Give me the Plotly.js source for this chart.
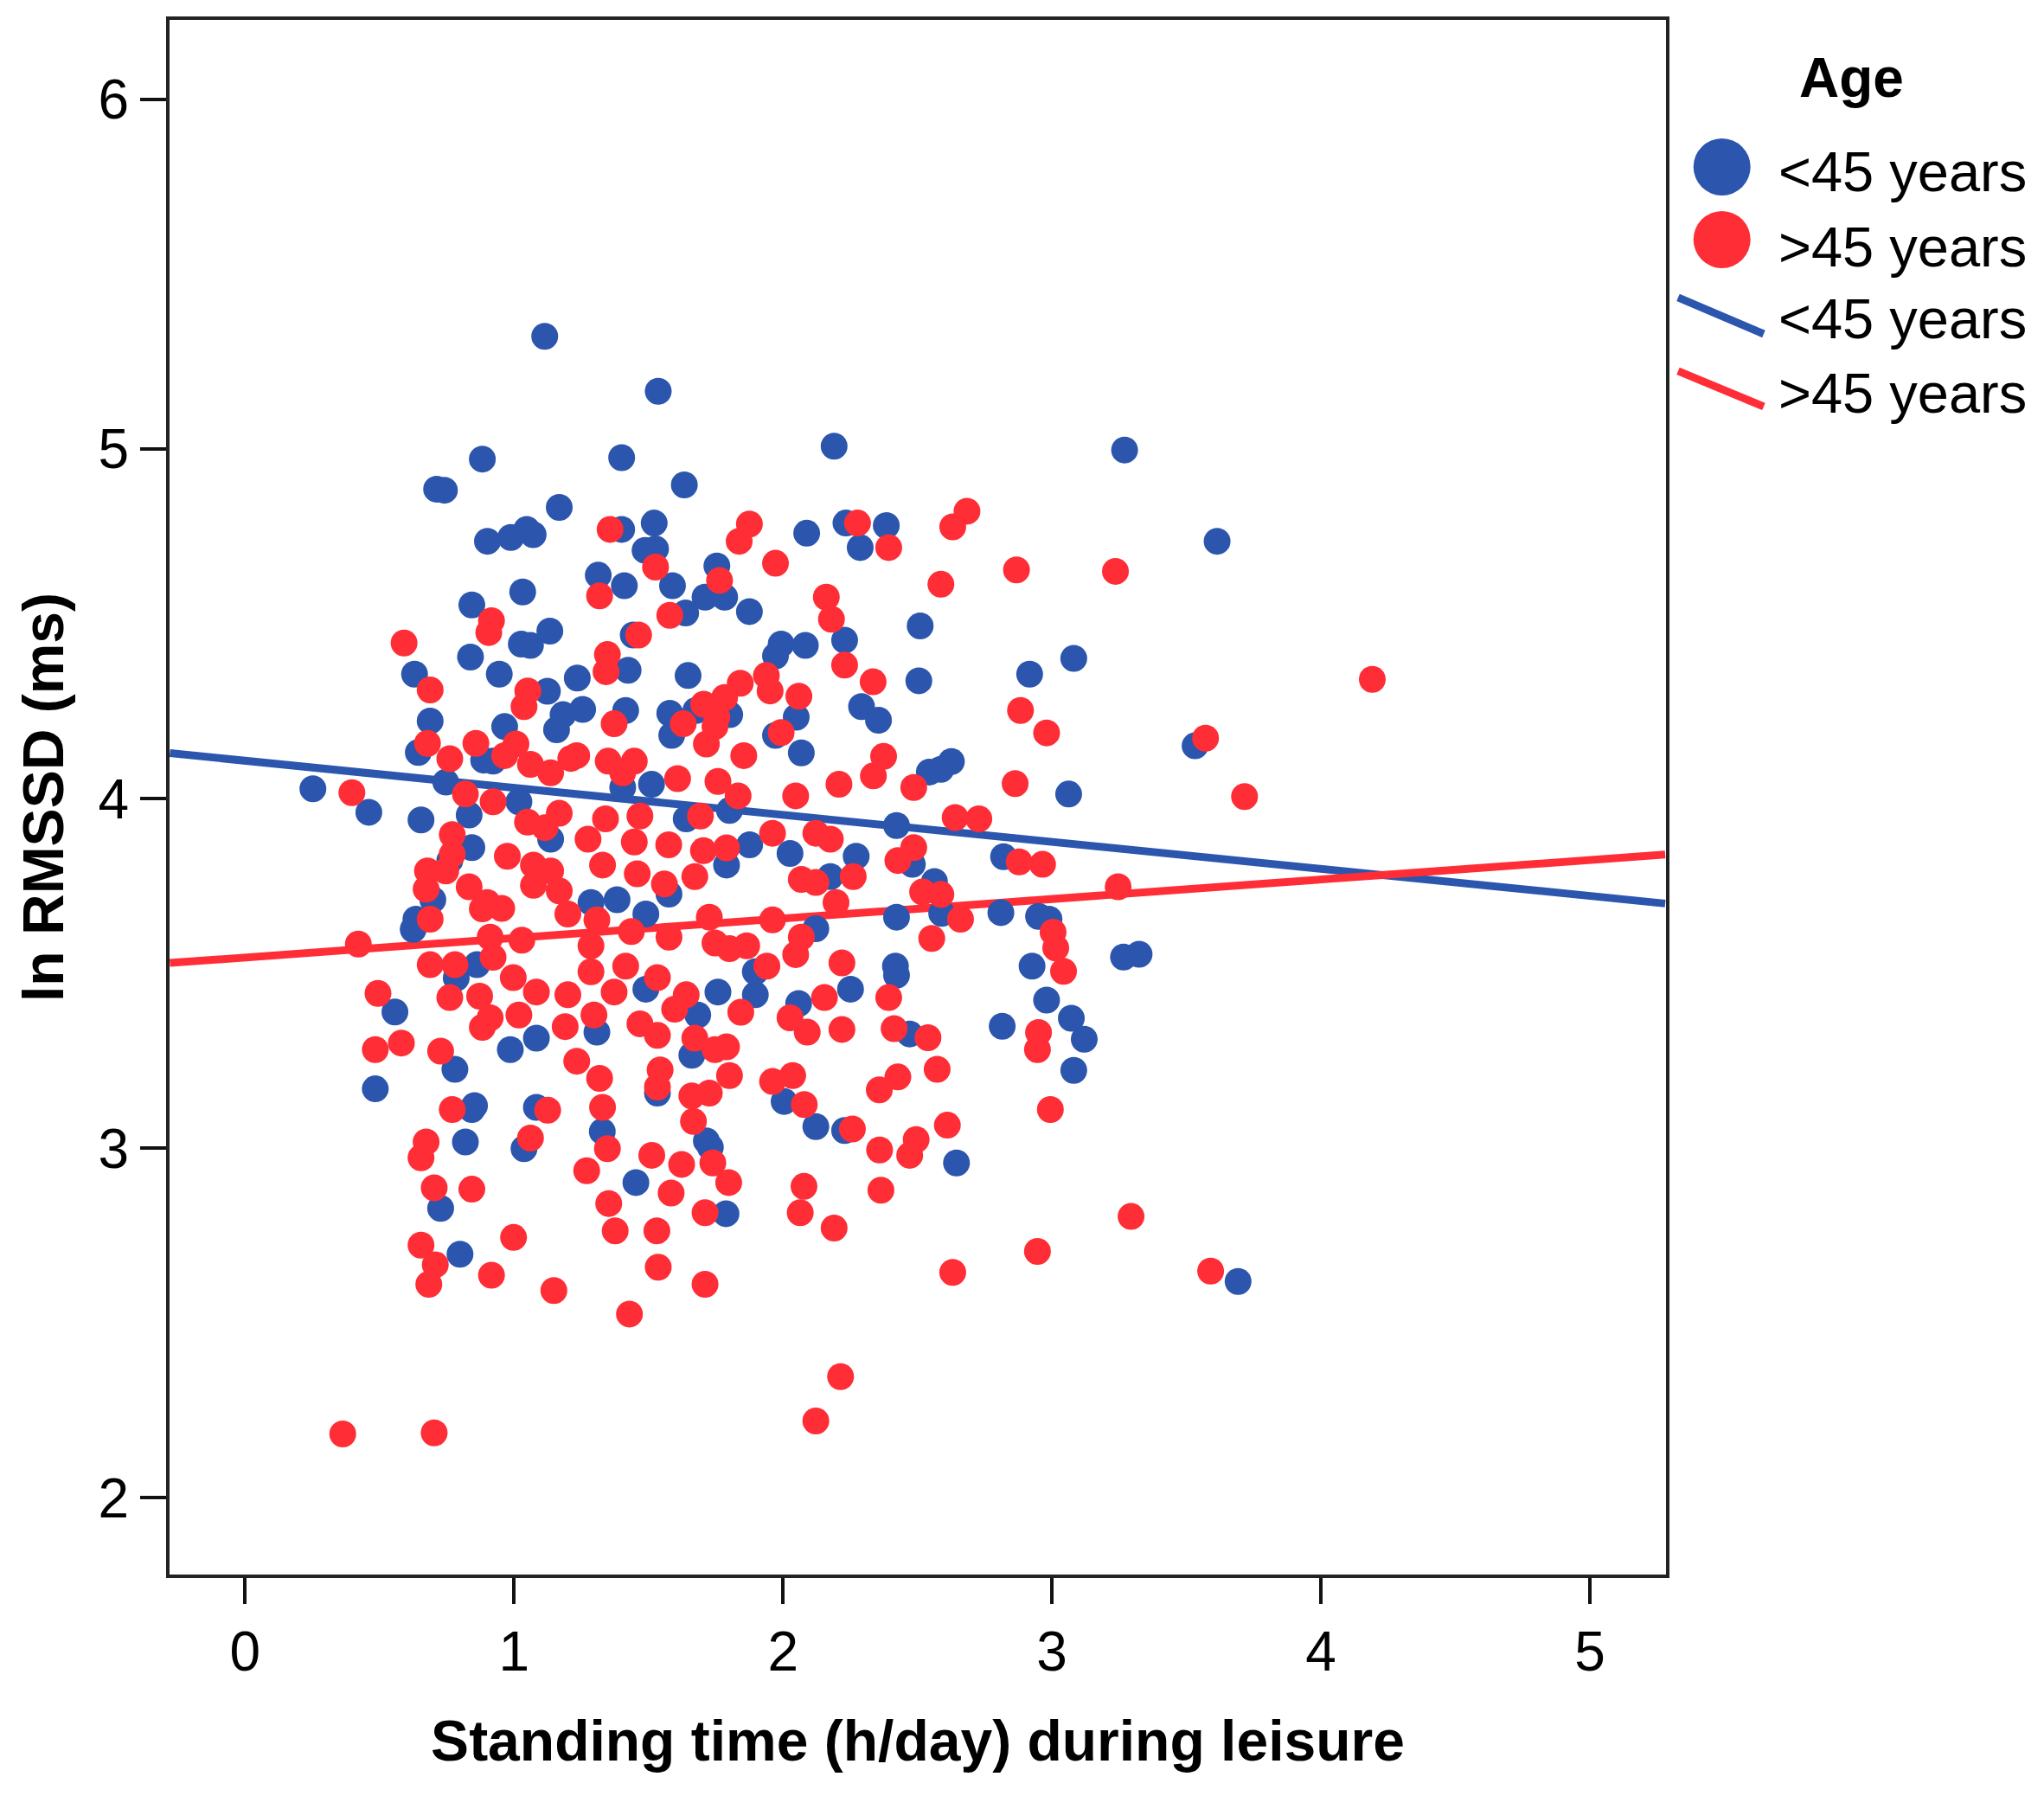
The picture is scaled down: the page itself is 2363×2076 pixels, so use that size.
<!DOCTYPE html>
<html>
<head>
<meta charset="utf-8">
<script src="https://cdn.plot.ly/plotly-3.0.1.min.js"></script>
<style>html,body{margin:0;padding:0;background:#fff;}</style>
</head>
<body>
<div id="chart" style="width:2363px;height:2076px;"></div>
<script>
// ---- Data ----
const youngX = [1.114,1.536,2.190,3.270,0.882,1.400,1.633,0.712,0.741,1.168,1.521,2.234,2.384,0.988,1.047,1.071,0.901,2.088,3.614,1.400,2.287,1.487,1.526,1.754,1.313,1.410,1.589,1.032,1.783,1.710,0.843,1.875,1.638,1.133,2.510,1.443,1.027,1.061,1.993,2.083,2.229,0.838,1.972,3.081,0.630,0.945,1.647,2.917,1.424,2.505,1.235,1.124,0.688,1.182,1.255,1.415,1.579,1.676,2.049,2.292,1.802,0.644,0.252,0.460,0.654,0.887,2.626,2.587,2.544,3.062,3.532,2.422,0.635,0.625,0.557,0.484,0.780,0.843,0.853,0.819,0.727,0.799,1.037,1.328,1.453,1.715,1.730,1.788,2.122,2.229,2.418,2.422,2.471,2.645,2.815,2.810,2.926,2.950,2.989,2.980,3.072,3.120,3.081,3.266,3.324,3.692,2.820,2.481,2.563,0.843,0.761,0.698,0.785,0.862,0.746,0.833,
0.965,1.158,1.586,2.068,1.972,0.922,1.018,1.136,1.404,1.511,1.640,1.801,1.876,2.026,1.790,1.576,2.272,2.176,1.286,1.383,1.490,2.122,2.251,1.758,1.897,2.058,1.490,1.683,1.083,0.986,1.308,1.661,1.533,1.083,2.004,1.897,2.422,2.590,2.355];
const youngY = [5.322,5.165,5.008,4.997,4.971,4.975,4.897,4.885,4.882,4.833,4.788,4.788,4.781,4.747,4.770,4.755,4.736,4.759,4.736,4.770,4.718,4.710,4.714,4.665,4.639,4.609,4.609,4.591,4.576,4.576,4.554,4.535,4.531,4.479,4.494,4.468,4.442,4.438,4.442,4.438,4.453,4.405,4.408,4.401,4.356,4.356,4.352,4.356,4.367,4.337,4.345,4.307,4.222,4.240,4.255,4.252,4.244,4.252,4.233,4.263,4.240,4.132,4.028,3.961,3.939,4.110,4.106,4.084,4.076,4.013,4.151,3.923,3.655,3.626,3.390,3.170,3.226,3.111,3.122,3.018,2.828,2.697,2.999,3.048,2.902,3.021,3.003,2.813,3.062,3.051,3.521,3.495,3.327,2.958,3.349,3.674,3.521,3.663,3.655,3.424,3.372,3.312,3.223,3.547,3.555,2.619,3.834,3.812,3.763,3.860,3.823,3.711,3.487,3.525,4.047,3.953,
4.206,4.197,4.181,4.131,4.181,4.107,3.991,3.884,4.032,4.041,3.942,3.966,3.868,3.843,3.810,3.727,3.835,3.777,3.703,3.711,3.670,3.628,3.455,3.447,3.439,3.414,3.455,3.381,3.315,3.282,3.332,3.266,3.158,3.117,3.134,3.505,3.661,3.672,4.224];

const olderX = [0.363,0.703,2.122,2.214,1.429,1.148,1.710,0.683,0.707,0.916,2.631,3.590,2.946,3.294,0.654,0.998,1.376,1.531,2.190,1.536,1.352,1.584,1.710,2.064,2.078,2.364,1.798,0.703,0.843,0.654,0.673,1.270,1.347,1.512,1.623,1.739,2.359,2.471,2.495,2.258,2.611,2.994,0.770,1.061,1.667,2.427,2.573,0.581,0.484,0.727,0.882,2.539,2.946,2.950,0.494,0.421,0.688,0.780,0.761,0.872,2.393,2.413,3.043,3.004,3.014,2.965,2.878,3.246,2.640,2.728,2.660,2.553,2.587,2.519,2.486,2.427,2.486,2.374,2.335,2.229,2.883,2.980,2.863,2.868,3.236,4.191,3.571,3.716,2.684,2.631,2.277,2.393,2.587,1.875,1.837,1.972,1.764,1.357,1.526,1.318,1.463,1.579,2.161,2.180,0.916,0.906,0.591,0.688,1.347,1.342,1.938,1.952,2.059,1.841,1.783,1.705,1.754,1.037,1.051,0.858,0.678,0.761,0.819,0.397,0.770,0.770,0.746,0.678,0.673,0.688,0.833,0.882,
1.007,0.965,1.061,1.136,1.211,1.233,1.350,1.447,1.404,1.608,1.758,1.833,1.715,1.854,1.993,2.047,2.208,2.336,1.629,1.747,1.372,0.922,1.050,1.168,1.115,1.275,1.340,1.468,1.447,1.575,1.693,1.704,1.790,1.961,2.176,2.122,0.975,1.072,1.136,1.072,1.168,1.329,1.458,1.559,1.672,2.068,2.261,2.122,2.197,0.954,0.900,1.200,1.308,1.436,1.576,1.726,1.747,1.801,1.865,1.961,2.068,2.047,1.029,0.911,1.286,2.219,1.940,0.922,0.997,1.083,1.200,1.286,1.372,1.415,1.533,1.640,1.597,1.843,2.026,2.154,2.219,2.090,1.018,0.911,1.190,1.297,1.468,1.533,1.672,1.233,1.318,1.543,1.533,1.661,1.726,1.801,1.961,2.036,2.079,2.358,1.329,1.125,1.747,1.790];
const olderY = [2.183,2.186,2.220,2.347,2.526,2.593,2.611,2.611,2.667,2.637,2.645,2.649,2.705,2.805,2.723,2.745,2.764,2.764,2.772,2.660,2.842,2.872,2.816,2.816,2.891,2.880,2.902,2.887,2.883,2.973,3.018,2.936,2.999,2.980,2.954,2.958,2.995,2.980,3.025,3.055,3.066,3.111,3.111,3.029,3.077,3.204,3.226,3.301,3.282,3.278,3.346,3.316,3.282,3.331,3.443,3.584,3.525,3.525,3.431,3.435,3.431,3.342,3.506,3.618,3.573,3.812,3.819,3.748,3.946,3.942,3.655,3.600,3.726,3.733,3.860,3.823,4.032,4.121,4.334,4.382,4.252,4.188,4.043,4.654,4.650,4.341,4.173,4.006,4.822,4.777,4.788,4.718,4.613,4.785,4.736,4.673,4.624,4.770,4.662,4.580,4.468,4.524,4.576,4.513,4.509,4.475,4.445,4.311,4.412,4.363,4.352,4.308,4.293,4.330,4.289,4.270,4.233,4.263,4.308,4.158,4.158,4.114,4.013,4.017,3.897,3.841,3.793,3.793,3.741,3.655,3.748,3.685,
4.156,4.123,4.098,4.074,4.115,4.123,4.107,4.107,4.074,4.057,4.049,4.008,4.156,4.123,4.189,4.008,4.041,4.065,4.214,4.206,4.214,3.991,3.933,3.958,3.917,3.884,3.942,3.950,3.876,3.868,3.950,3.851,3.859,3.901,3.884,3.901,3.835,3.810,3.793,3.752,3.736,3.810,3.785,3.756,3.777,3.769,3.777,3.760,3.703,3.686,3.703,3.670,3.653,3.620,3.604,3.661,3.587,3.571,3.579,3.653,3.604,3.554,3.595,3.604,3.579,3.530,3.521,3.546,3.488,3.447,3.439,3.505,3.447,3.521,3.488,3.439,3.398,3.389,3.373,3.431,3.340,3.332,3.381,3.373,3.348,3.381,3.356,3.323,3.315,3.249,3.200,3.224,3.175,3.150,3.158,3.208,3.191,3.208,3.125,3.167,3.117,3.109,3.282,3.290];

// Fit lines, endpoints read at the plot edges
const fitX = [-0.28, 5.28];
const fitYoungY = [4.13, 3.70];
const fitOlderY = [3.53, 3.84];

const groupLabels = ["<45 years", ">45 years"];
const legendTitle = "Age";
const xTitle = "Standing time (h/day) during leisure";
const yTitle = "ln RMSSD (ms)";
const xTicks = [0, 1, 2, 3, 4, 5];
const yTicks = [2, 3, 4, 5, 6];

// ---- Styles ----
const BLUE = "#2c56ad";
const RED = "#ff2d36";
const FONT = "Liberation Sans, Arial, sans-serif";

const traces = [
  {x: fitX, y: fitYoungY, type: "scatter", mode: "lines", name: groupLabels[0],
   line: {color: BLUE, width: 9}},
  {x: fitX, y: fitOlderY, type: "scatter", mode: "lines", name: groupLabels[1],
   line: {color: RED, width: 9}},
  {x: youngX, y: youngY, type: "scatter", mode: "markers", name: groupLabels[0],
   marker: {color: BLUE, size: 31, line: {width: 0}}},
  {x: olderX, y: olderY, type: "scatter", mode: "markers", name: groupLabels[1],
   marker: {color: RED, size: 31, line: {width: 0}}}
];

// Custom legend (paper coordinates, to the right of the plot)
const legX = 1.0374, legTextX = 1.074;
const rowY = [0.9021, 0.8542, 0.8075, 0.7596];
const shapes = [
  {type: "circle", xref: "paper", yref: "paper", xsizemode: "pixel", ysizemode: "pixel",
   xanchor: legX, yanchor: 0.9054, x0: -33, x1: 33, y0: -33, y1: 33,
   fillcolor: BLUE, line: {width: 0}},
  {type: "circle", xref: "paper", yref: "paper", xsizemode: "pixel", ysizemode: "pixel",
   xanchor: legX, yanchor: 0.8587, x0: -33, x1: 33, y0: -33, y1: 33,
   fillcolor: RED, line: {width: 0}},
  {type: "line", xref: "paper", yref: "paper", x0: 1.0081, x1: 1.0653, y0: 0.8214, y1: 0.7980,
   line: {color: BLUE, width: 9}},
  {type: "line", xref: "paper", yref: "paper", x0: 1.0081, x1: 1.0653, y0: 0.7741, y1: 0.7513,
   line: {color: RED, width: 9}}
];
const annotations = [
  {xref: "paper", yref: "paper", x: 1.1237, y: 0.9627, text: "<b>" + legendTitle + "</b>",
   showarrow: false, xanchor: "center", yanchor: "middle", font: {family: FONT, size: 64, color: "#000"}}
];
const rowLabels = [groupLabels[0], groupLabels[1], groupLabels[0], groupLabels[1]];
rowLabels.forEach((t, i) => annotations.push({
  xref: "paper", yref: "paper", x: legTextX, y: rowY[i], text: t.replace("<", "&lt;").replace(">", "&gt;"),
  showarrow: false, xanchor: "left", yanchor: "middle", font: {family: FONT, size: 65, color: "#000"}
}));

const layout = {
  width: 2363, height: 2076,
  margin: {l: 196, r: 437, t: 23, b: 256},
  paper_bgcolor: "#fff", plot_bgcolor: "#fff",
  showlegend: false,
  font: {family: FONT, color: "#000"},
  xaxis: {
    range: [-0.281, 5.283], tickvals: xTicks, ticktext: xTicks.map(String),
    showgrid: false, zeroline: false, showline: true, mirror: true,
    linecolor: "#222", linewidth: 4, ticks: "outside", ticklen: 30, tickwidth: 4, tickcolor: "#111",
    tickfont: {family: FONT, size: 64, color: "#000"},
    title: {text: "<b>" + xTitle + "</b>", font: {family: FONT, size: 66, color: "#000"}, standoff: 46}
  },
  yaxis: {
    range: [1.781, 6.227], tickvals: yTicks, ticktext: yTicks.map(String),
    showgrid: false, zeroline: false, showline: true, mirror: true,
    linecolor: "#222", linewidth: 4, ticks: "outside", ticklen: 30, tickwidth: 4, tickcolor: "#111",
    tickfont: {family: FONT, size: 64, color: "#000"},
    title: {text: "<b>" + yTitle + "</b>", font: {family: FONT, size: 66, color: "#000"}, standoff: 20}
  },
  shapes: shapes,
  annotations: annotations
};

Plotly.newPlot("chart", traces, layout, {displayModeBar: false, staticPlot: true});
</script>
</body>
</html>
